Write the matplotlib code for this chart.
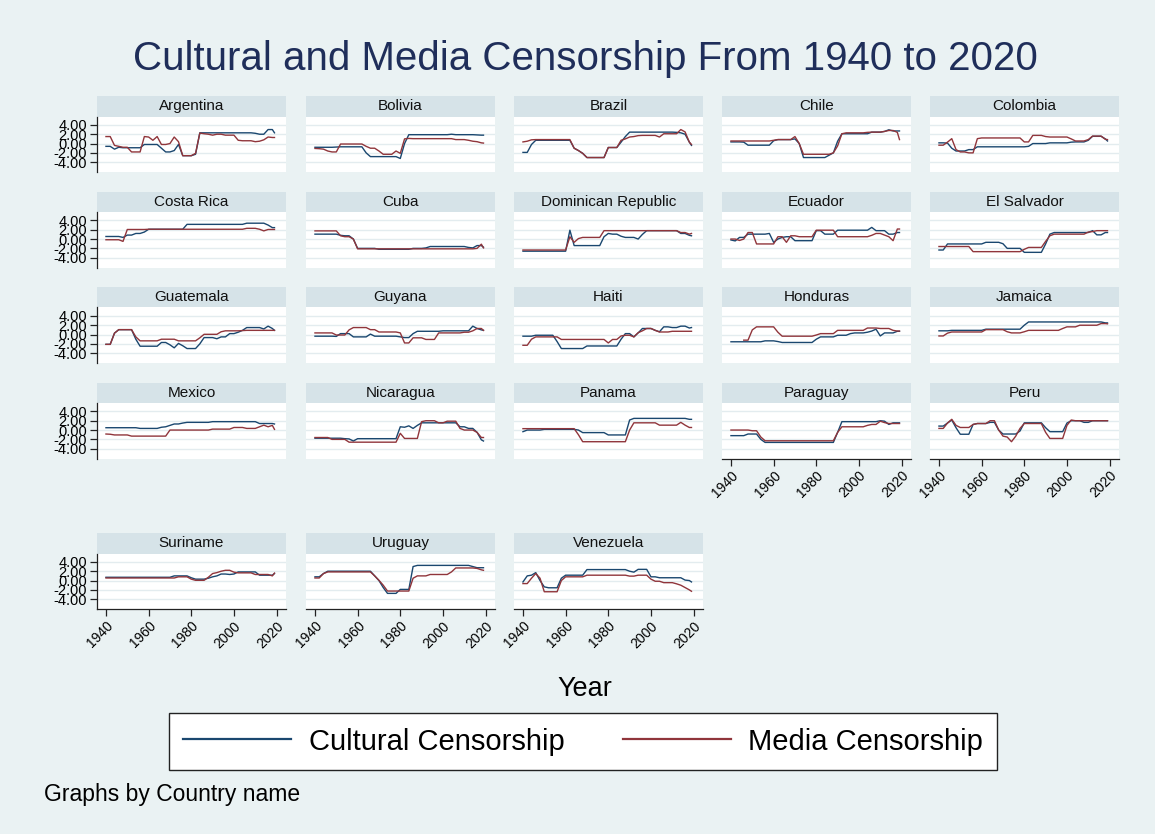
import numpy as np
import matplotlib
matplotlib.use("Agg")
import matplotlib.pyplot as plt

plt.rcParams["font.family"] = ["Liberation Sans", "DejaVu Sans"]

nan = np.nan
years = list(range(1940, 2019, 2)) + [2019]

# cultural (blue) and media (red) censorship scores, one value per point in `years`
argentina_cult = [-0.6, -0.6, -1.2, -0.8, -0.9, -0.9, -0.9, -0.9, -0.9, -0.2,
                  -0.2, -0.2, -0.2, -1.0, -1.8, -1.8, -1.5, -0.2, -2.6, -2.6,
                  -2.6, -2.3, 2.3, 2.3, 2.3, 2.3, 2.3, 2.3, 2.3, 2.3,
                  2.3, 2.3, 2.3, 2.3, 2.3, 2.2, 2.0, 2.0, 3.0, 3.0, 2.3]
argentina_media = [1.5, 1.5, -0.4, -0.6, -0.8, -0.8, -1.8, -1.8, -1.8, 1.5,
                   1.4, 0.7, 1.5, -0.2, -0.2, 0.0, 1.4, 0.4, -2.6, -2.6,
                   -2.6, -2.1, 2.25, 2.1, 2.0, 1.8, 2.0, 2.0, 1.8, 1.8,
                   1.8, 0.7, 0.6, 0.6, 0.6, 0.4, 0.5, 0.8, 1.4, 1.3, 1.3]
bolivia_cult = [-0.8, -0.8, -0.8, -0.8, -0.8, -0.75, -0.7, -0.7, -0.7, -0.7,
                -0.7, -0.7, -2.0, -2.8, -2.8, -2.8, -2.8, -2.8, -2.8, -2.8,
                -3.2, 0.0, 1.9, 1.9, 1.9, 1.9, 1.9, 1.9, 1.9, 1.9,
                1.9, 1.9, 2.0, 1.9, 1.9, 1.9, 1.9, 1.9, 1.85, 1.8, 1.8]
bolivia_media = [-1.05, -1.1, -1.2, -1.6, -1.8, -1.8, -0.1, -0.1, -0.1, -0.1,
                 -0.1, -0.1, -0.6, -1.0, -1.0, -1.6, -2.3, -2.3, -2.3, -1.6,
                 -2.1, 1.0, 1.1, 1.05, 1.05, 1.05, 1.05, 1.05, 1.05, 1.05,
                 1.05, 1.05, 1.05, 0.85, 0.85, 0.85, 0.7, 0.5, 0.4, 0.15, 0.1]
brazil_cult = [-1.9, -1.9, -0.2, 0.7, 0.7, 0.7, 0.7, 0.7, 0.7, 0.7,
               0.7, 0.7, -1.0, -1.5, -2.1, -3.0, -3.0, -3.0, -3.0, -3.0,
               -0.85, -0.85, -0.85, 0.3, 1.5, 2.45, 2.45, 2.45, 2.45, 2.45,
               2.45, 2.45, 2.45, 2.45, 2.45, 2.45, 2.4, 2.3, 2.0, 0.3, -0.4]
brazil_media = [0.35, 0.5, 0.8, 0.85, 0.85, 0.85, 0.85, 0.85, 0.85, 0.85,
                0.85, 0.85, -1.0, -1.5, -2.1, -3.0, -3.0, -3.0, -3.0, -3.0,
                -0.85, -0.85, -0.85, 0.7, 1.0, 1.4, 1.5, 1.7, 1.75, 1.75,
                1.75, 1.75, 1.4, 2.1, 2.1, 2.1, 2.1, 3.0, 2.5, 0.3, -0.2]
chile_cult = [0.35, 0.35, 0.35, 0.3, -0.35, -0.35, -0.35, -0.35, -0.35, -0.35,
              0.6, 0.85, 0.85, 0.85, 0.85, 1.0, 0.0, -3.0, -3.0, -3.0,
              -3.0, -3.0, -3.0, -2.5, -2.0, 0.5, 2.1, 2.1, 2.1, 2.1,
              2.1, 2.1, 2.1, 2.45, 2.45, 2.45, 2.6, 2.95, 2.7, 2.7, 2.7]
chile_media = [0.55, 0.55, 0.55, 0.55, 0.55, 0.55, 0.55, 0.55, 0.55, 0.55,
               0.7, 0.85, 0.85, 0.85, 0.85, 1.5, 0.0, -2.3, -2.3, -2.3,
               -2.3, -2.3, -2.3, -2.3, -2.0, -0.5, 2.1, 2.3, 2.3, 2.3,
               2.3, 2.3, 2.4, 2.45, 2.45, 2.45, 2.6, 2.8, 2.8, 2.4, 0.85]
colombia_cult = [0.15, 0.15, 0.1, -1.0, -1.6, -1.6, -1.6, -1.3, -1.3, -0.7,
                 -0.7, -0.7, -0.7, -0.7, -0.7, -0.7, -0.7, -0.7, -0.7, -0.7,
                 -0.7, -0.6, 0.0, 0.0, 0.0, 0.0, 0.15, 0.15, 0.15, 0.15,
                 0.15, 0.3, 0.35, 0.35, 0.35, 0.7, 1.55, 1.55, 1.55, 1.0, 0.55]
colombia_media = [-0.35, -0.35, 0.3, 1.05, -1.3, -1.8, -1.8, -2.0, -2.0, 1.05,
                  1.2, 1.2, 1.2, 1.2, 1.2, 1.2, 1.2, 1.2, 1.2, 1.2,
                  0.35, 0.35, 1.75, 1.75, 1.75, 1.5, 1.4, 1.4, 1.4, 1.4,
                  1.4, 1.0, 0.55, 0.55, 0.55, 0.85, 1.6, 1.6, 1.6, 0.9, 0.85]
costarica_cult = [0.55, 0.55, 0.55, 0.55, 0.35, 0.85, 0.85, 1.2, 1.2, 1.5,
                  2.1, 2.1, 2.1, 2.1, 2.1, 2.1, 2.1, 2.1, 2.1, 3.15,
                  3.15, 3.15, 3.15, 3.15, 3.15, 3.15, 3.15, 3.15, 3.15, 3.15,
                  3.15, 3.15, 3.15, 3.4, 3.4, 3.4, 3.4, 3.4, 3.0, 2.45, 2.45]
costarica_media = [-0.15, -0.15, -0.15, -0.15, -0.5, 2.05, 2.05, 2.05, 2.05, 2.05,
                   2.1, 2.1, 2.1, 2.1, 2.1, 2.1, 2.1, 2.1, 2.1, 2.1,
                   2.1, 2.1, 2.1, 2.1, 2.1, 2.1, 2.1, 2.1, 2.1, 2.1,
                   2.1, 2.1, 2.1, 2.3, 2.3, 2.3, 2.1, 1.75, 2.05, 2.05, 2.05]
cuba_cult = [1.05, 1.05, 1.05, 1.05, 1.05, 1.05, 0.8, 0.7, 0.7, 0.0,
             -2.0, -2.0, -2.0, -2.0, -2.0, -2.2, -2.2, -2.2, -2.2, -2.2,
             -2.2, -2.2, -2.2, -2.0, -2.0, -2.0, -1.9, -1.6, -1.6, -1.6,
             -1.6, -1.6, -1.6, -1.6, -1.6, -1.6, -1.8, -1.9, -1.4, -1.4, -1.75]
cuba_media = [1.75, 1.75, 1.75, 1.75, 1.75, 1.75, 0.7, 0.5, 0.5, 0.0,
              -2.1, -2.1, -2.1, -2.1, -2.1, -2.1, -2.1, -2.1, -2.1, -2.1,
              -2.1, -2.1, -2.1, -2.1, -2.1, -2.1, -2.1, -2.1, -2.1, -2.1,
              -2.1, -2.1, -2.1, -2.1, -2.1, -2.1, -2.1, -2.1, -2.0, -1.1, -1.9]
dominican_cult = [-2.6, -2.6, -2.6, -2.6, -2.6, -2.6, -2.6, -2.6, -2.6, -2.6,
                  -2.6, 1.9, -1.4, -1.4, -1.4, -1.4, -1.4, -1.4, -1.4, 0.5,
                  1.2, 1.05, 1.05, 0.6, 0.35, 0.35, 0.35, 0.0, 1.0, 1.8,
                  1.8, 1.8, 1.8, 1.8, 1.8, 1.8, 1.8, 1.2, 1.2, 0.8, 0.7]
dominican_media = [-2.35, -2.35, -2.35, -2.35, -2.35, -2.35, -2.35, -2.35, -2.35, -2.35,
                   -2.35, 0.5, -0.7, 0.1, 0.35, 0.35, 0.35, 0.35, 0.35, 1.8,
                   1.8, 1.8, 1.8, 1.8, 1.8, 1.8, 1.8, 1.8, 1.8, 1.8,
                   1.8, 1.8, 1.8, 1.8, 1.8, 1.8, 1.8, 1.4, 1.4, 1.05, 1.2]
ecuador_cult = [-0.2, -0.4, 0.35, 0.35, 1.05, 1.05, 1.05, 1.05, 1.05, 1.2,
                -0.7, 0.0, 0.35, 0.5, 0.5, -0.35, -0.35, -0.35, -0.35, -0.35,
                1.8, 1.8, 1.05, 1.05, 1.05, 1.9, 1.9, 1.9, 1.9, 1.9,
                1.9, 1.9, 1.9, 2.5, 1.8, 1.8, 1.8, 1.05, 1.05, 1.4, 1.4]
ecuador_media = [0.0, 0.0, -0.3, 0.0, 1.4, 1.4, -1.05, -1.05, -1.05, -1.05,
                 -1.05, 0.5, 0.5, -0.7, 0.7, 0.7, 0.5, 0.5, 0.5, 0.5,
                 1.9, 1.9, 1.9, 1.9, 1.9, 0.5, 0.5, 0.5, 0.5, 0.5,
                 0.5, 0.5, 0.5, 0.8, 1.2, 1.2, 0.85, 0.5, -0.35, 2.15, 2.15]
elsalvador_cult = [-2.35, -2.35, -1.05, -1.05, -1.05, -1.05, -1.05, -1.05, -1.05, -1.05,
                   -1.05, -0.7, -0.7, -0.7, -0.7, -1.0, -2.0, -2.0, -2.0, -2.0,
                   -2.85, -2.85, -2.85, -2.85, -2.85, -1.05, 1.05, 1.4, 1.4, 1.4,
                   1.4, 1.4, 1.4, 1.4, 1.4, 1.4, 1.8, 0.9, 0.9, 1.4, 1.4]
elsalvador_media = [-1.6, -1.6, -1.6, -1.6, -1.6, -1.6, -1.6, -1.6, -2.7, -2.7,
                    -2.7, -2.7, -2.7, -2.7, -2.7, -2.7, -2.7, -2.7, -2.7, -2.7,
                    -2.2, -1.8, -1.8, -1.8, -1.8, -0.5, 0.7, 1.05, 1.05, 1.05,
                    1.05, 1.05, 1.05, 1.05, 1.05, 1.5, 1.6, 1.8, 1.8, 1.8, 1.8]
guatemala_cult = [-2.1, -2.1, 0.3, 1.05, 1.05, 1.05, 1.05, -1.0, -2.5, -2.5,
                  -2.5, -2.5, -2.5, -1.7, -1.7, -2.2, -2.85, -1.9, -2.4, -3.0,
                  -3.0, -3.0, -2.0, -0.65, -0.65, -0.65, -0.9, -0.5, -0.5, 0.2,
                  0.2, 0.5, 0.9, 1.5, 1.5, 1.5, 1.5, 1.2, 1.8, 1.3, 0.9]
guatemala_media = [-2.1, -2.1, 0.3, 1.05, 1.05, 1.05, 1.05, -0.5, -1.35, -1.35,
                   -1.35, -1.35, -1.35, -1.0, -1.0, -1.0, -1.0, -1.35, -1.35, -1.35,
                   -1.35, -1.35, -0.7, 0.05, 0.05, 0.05, 0.05, 0.6, 0.8, 0.8,
                   0.8, 0.8, 0.85, 0.9, 0.9, 0.9, 0.9, 0.9, 0.9, 0.9, 0.9]
guyana_cult = [-0.35, -0.35, -0.35, -0.35, -0.35, -0.4, 0.2, 0.2, 0.2, -0.5,
               -0.5, -0.5, -0.5, 0.1, -0.35, -0.35, -0.35, -0.35, -0.35, -0.35,
               -0.5, -0.65, -0.65, 0.2, 0.7, 0.7, 0.7, 0.7, 0.7, 0.7,
               0.8, 0.8, 0.8, 0.8, 0.8, 0.8, 0.8, 1.8, 1.3, 1.0, 0.9]
guyana_media = [0.35, 0.35, 0.35, 0.35, 0.35, -0.1, -0.1, -0.1, 1.0, 1.5,
                1.5, 1.5, 1.5, 1.05, 1.05, 0.55, 0.55, 0.55, 0.55, 0.55,
                0.35, -1.8, -1.8, -0.7, -0.7, -0.7, -1.05, -1.05, -1.05, 0.35,
                0.35, 0.35, 0.35, 0.35, 0.35, 0.5, 0.5, 0.8, 1.3, 1.3, 0.9]
haiti_cult = [-0.35, -0.35, -0.35, -0.15, -0.15, -0.15, -0.15, -0.15, -1.5, -3.0,
              -3.0, -3.0, -3.0, -3.0, -3.0, -2.45, -2.45, -2.45, -2.45, -2.45,
              -2.45, -2.45, -2.45, -1.0, 0.2, 0.2, -0.5, 0.35, 1.3, 1.3,
              1.3, 0.9, 0.6, 1.65, 1.65, 1.5, 1.5, 1.8, 1.8, 1.4, 1.5]
haiti_media = [-2.3, -2.3, -1.0, -0.5, -0.5, -0.5, -0.5, -0.5, -0.5, -1.05,
               -1.05, -1.05, -1.05, -1.05, -1.05, -1.05, -1.05, -1.05, -1.05, -1.05,
               -1.8, -1.05, -1.05, -0.3, -0.15, -0.15, -0.5, 0.4, 0.8, 1.3,
               1.3, 0.9, 0.55, 0.55, 0.55, 0.7, 0.7, 0.7, 0.7, 0.7, 0.7]
honduras_cult = [-1.55, -1.55, -1.55, -1.55, -1.55, -1.55, -1.55, -1.55, -1.35, -1.35,
                 -1.35, -1.5, -1.7, -1.7, -1.7, -1.7, -1.7, -1.7, -1.7, -1.7,
                 -1.0, -0.5, -0.5, -0.5, -0.5, -0.15, -0.15, -0.15, 0.2, 0.35,
                 0.35, 0.35, 0.5, 0.75, 1.15, -0.3, 0.35, 0.35, 0.35, 0.7, 0.7]
honduras_media = [nan, nan, nan, -1.2, -1.2, 1.0, 1.65, 1.65, 1.65, 1.65,
                  1.65, 0.5, -0.35, -0.35, -0.35, -0.35, -0.35, -0.35, -0.35, -0.35,
                  -0.1, 0.2, 0.2, 0.2, 0.2, 0.9, 0.9, 0.9, 0.9, 0.9,
                  0.9, 0.9, 1.4, 1.4, 1.4, 1.3, 1.3, 1.3, 0.9, 0.75, 0.75]
jamaica_cult = [0.8, 0.8, 0.8, 0.9, 0.9, 0.9, 0.9, 0.9, 0.9, 0.9,
                0.9, 1.15, 1.15, 1.15, 1.15, 1.15, 1.15, 1.15, 1.15, 1.15,
                2.0, 2.7, 2.7, 2.7, 2.7, 2.7, 2.7, 2.7, 2.7, 2.7,
                2.7, 2.7, 2.7, 2.7, 2.7, 2.7, 2.7, 2.7, 2.7, 2.5, 2.5]
jamaica_media = [-0.3, -0.3, 0.3, 0.55, 0.55, 0.55, 0.55, 0.55, 0.55, 0.55,
                 0.55, 1.05, 1.05, 1.05, 1.05, 1.05, 0.6, 0.35, 0.35, 0.35,
                 0.6, 0.9, 0.9, 0.9, 0.9, 0.9, 0.9, 0.9, 0.9, 1.3,
                 1.65, 1.65, 1.65, 2.0, 2.0, 2.0, 2.0, 2.0, 2.35, 2.35, 2.3]
mexico_cult = [0.5, 0.5, 0.5, 0.5, 0.5, 0.5, 0.5, 0.5, 0.35, 0.35,
               0.35, 0.35, 0.35, 0.6, 0.7, 1.0, 1.3, 1.3, 1.5, 1.65,
               1.65, 1.65, 1.65, 1.65, 1.65, 1.8, 1.8, 1.8, 1.8, 1.8,
               1.8, 1.8, 1.8, 1.8, 1.8, 1.8, 1.4, 1.4, 1.4, 1.4, 1.3]
mexico_media = [-0.85, -0.9, -1.05, -1.05, -1.05, -1.05, -1.3, -1.3, -1.3, -1.3,
                -1.3, -1.3, -1.3, -1.3, -1.3, 0.0, 0.0, 0.0, 0.0, 0.0,
                0.0, 0.0, 0.0, 0.0, 0.0, 0.2, 0.2, 0.2, 0.2, 0.2,
                0.55, 0.55, 0.55, 0.35, 0.35, 0.35, 0.7, 1.05, 0.7, 1.0, 0.15]
nicaragua_cult = [-1.75, -1.75, -1.75, -1.75, -1.75, -1.75, -1.75, -1.85, -1.9, -2.35,
                  -1.85, -1.85, -1.85, -1.85, -1.85, -1.85, -1.85, -1.85, -1.85, -1.85,
                  0.7, 0.6, 0.9, 0.35, 1.0, 1.55, 1.55, 1.55, 1.55, 1.55,
                  1.55, 1.55, 1.55, 1.55, 0.7, 0.7, 0.35, 0.35, -0.5, -2.1, -2.35]
nicaragua_media = [-1.6, -1.6, -1.6, -1.6, -2.0, -2.0, -2.0, -2.0, -2.6, -2.6,
                   -2.6, -2.6, -2.6, -2.6, -2.6, -2.6, -2.6, -2.6, -2.6, -2.6,
                   -0.7, -1.8, -1.8, -1.8, -1.8, 1.8, 2.0, 2.0, 2.0, 1.55,
                   1.55, 1.9, 1.9, 1.9, 0.35, 0.0, 0.0, 0.0, -0.5, -1.6, -1.6]
panama_cult = [-0.35, 0.0, 0.0, 0.0, 0.0, 0.15, 0.15, 0.15, 0.15, 0.15,
               0.15, 0.15, 0.15, 0.0, -0.55, -0.55, -0.55, -0.55, -0.55, -0.55,
               -1.05, -1.05, -1.05, -1.05, -1.05, 2.15, 2.5, 2.5, 2.5, 2.5,
               2.5, 2.5, 2.5, 2.5, 2.5, 2.5, 2.5, 2.5, 2.5, 2.3, 2.3]
panama_media = [0.3, 0.3, 0.3, 0.3, 0.3, 0.3, 0.3, 0.3, 0.3, 0.3,
                0.3, 0.3, 0.3, -1.0, -2.5, -2.5, -2.5, -2.5, -2.5, -2.5,
                -2.5, -2.5, -2.5, -2.5, -2.5, 0.0, 1.55, 1.55, 1.55, 1.55,
                1.55, 1.55, 1.05, 1.05, 1.05, 1.05, 1.05, 1.65, 1.05, 0.55, 0.55]
paraguay_cult = [-1.2, -1.2, -1.2, -1.2, -0.85, -0.85, -0.85, -2.0, -2.65, -2.65,
                 -2.65, -2.65, -2.65, -2.65, -2.65, -2.65, -2.65, -2.65, -2.65, -2.65,
                 -2.65, -2.65, -2.65, -2.65, -2.65, -0.5, 1.8, 1.8, 1.8, 1.8,
                 1.8, 1.8, 1.8, 1.8, 1.8, 2.0, 1.9, 1.2, 1.55, 1.55, 1.55]
paraguay_media = [0.0, 0.0, 0.0, 0.0, 0.0, -0.15, -0.15, -1.5, -2.3, -2.3,
                  -2.3, -2.3, -2.3, -2.3, -2.3, -2.3, -2.3, -2.3, -2.3, -2.3,
                  -2.3, -2.3, -2.3, -2.3, -2.3, -0.5, 0.7, 0.7, 0.7, 0.7,
                  0.7, 0.7, 1.0, 1.2, 1.2, 1.9, 1.6, 1.4, 1.4, 1.4, 1.4]
peru_cult = [0.85, 0.85, 1.5, 2.15, 0.5, -0.9, -0.9, -0.9, 1.2, 1.4,
             1.4, 1.4, 1.65, 1.65, 0.0, -0.85, -0.85, -0.85, -0.85, -0.2,
             1.55, 1.55, 1.55, 1.55, 1.55, 0.5, -0.35, -0.35, -0.35, -0.35,
             1.5, 2.0, 2.0, 2.0, 1.65, 1.65, 2.0, 2.0, 2.0, 2.0, 2.0]
peru_media = [0.35, 0.35, 1.5, 2.3, 1.0, 0.55, 0.55, 0.55, 1.2, 1.4,
              1.4, 1.4, 2.0, 2.0, 0.0, -1.3, -1.5, -2.5, -1.3, 0.35,
              1.4, 1.4, 1.4, 1.4, 1.4, -0.5, -1.8, -1.8, -1.8, -1.8,
              1.0, 2.15, 2.0, 2.0, 2.0, 2.0, 2.0, 2.0, 2.0, 2.0, 2.0]
suriname_cult = [0.7, 0.7, 0.7, 0.7, 0.7, 0.7, 0.7, 0.7, 0.7, 0.7,
                 0.7, 0.7, 0.7, 0.7, 0.7, 0.7, 1.0, 1.0, 1.0, 1.0,
                 0.6, 0.3, 0.3, 0.3, 0.5, 0.8, 1.0, 1.4, 1.4, 1.3,
                 1.4, 1.85, 1.85, 1.85, 1.85, 1.85, 1.15, 1.15, 1.15, 1.15, 1.5]
suriname_media = [0.55, 0.55, 0.55, 0.55, 0.55, 0.55, 0.55, 0.55, 0.55, 0.55,
                  0.55, 0.55, 0.55, 0.55, 0.55, 0.55, 0.55, 0.8, 0.8, 0.8,
                  0.3, 0.05, 0.05, 0.05, 0.7, 1.5, 1.7, 2.0, 2.2, 2.2,
                  1.8, 1.65, 1.65, 1.65, 1.65, 1.3, 1.3, 1.3, 1.3, 1.0, 1.6]
uruguay_cult = [0.8, 0.8, 1.5, 2.0, 2.0, 2.0, 2.0, 2.0, 2.0, 2.0,
                2.0, 2.0, 2.0, 2.0, 1.0, 0.0, -1.5, -2.75, -2.75, -2.75,
                -1.9, -1.9, -1.9, 3.0, 3.25, 3.25, 3.25, 3.25, 3.25, 3.25,
                3.25, 3.25, 3.25, 3.25, 3.25, 3.25, 3.25, 3.0, 2.75, 2.75, 2.75]
uruguay_media = [0.55, 0.55, 1.5, 1.85, 1.85, 1.85, 1.85, 1.85, 1.85, 1.85,
                 1.85, 1.85, 1.85, 1.85, 1.0, 0.05, -1.0, -2.25, -2.25, -2.25,
                 -2.25, -2.25, -2.25, 0.5, 1.0, 1.0, 1.0, 1.3, 1.3, 1.3,
                 1.3, 1.3, 1.85, 2.7, 2.7, 2.7, 2.7, 2.7, 2.6, 2.3, 2.2]
venezuela_cult = [-0.3, 1.0, 1.15, 1.7, 0.0, -1.35, -1.55, -1.55, -1.55, 0.5,
                  1.15, 1.15, 1.15, 1.15, 1.15, 2.35, 2.35, 2.35, 2.35, 2.35,
                  2.35, 2.35, 2.35, 2.35, 2.35, 2.0, 1.8, 2.4, 2.4, 2.4,
                  0.8, 0.8, 0.6, 0.6, 0.6, 0.6, 0.6, 0.6, 0.1, 0.0, -0.3]
venezuela_media = [-0.65, -0.65, 0.5, 1.5, 0.5, -2.4, -2.4, -2.4, -2.4, 0.0,
                   0.8, 0.8, 0.8, 0.8, 0.8, 1.15, 1.15, 1.15, 1.15, 1.15,
                   1.15, 1.15, 1.15, 1.15, 1.15, 0.95, 0.95, 1.15, 1.15, 1.15,
                   0.3, -0.15, -0.15, -0.45, -0.45, -0.45, -0.7, -1.0, -1.5, -2.0, -2.3]

countries = [
    ("Argentina", argentina_cult, argentina_media),
    ("Bolivia", bolivia_cult, bolivia_media),
    ("Brazil", brazil_cult, brazil_media),
    ("Chile", chile_cult, chile_media),
    ("Colombia", colombia_cult, colombia_media),
    ("Costa Rica", costarica_cult, costarica_media),
    ("Cuba", cuba_cult, cuba_media),
    ("Dominican Republic", dominican_cult, dominican_media),
    ("Ecuador", ecuador_cult, ecuador_media),
    ("El Salvador", elsalvador_cult, elsalvador_media),
    ("Guatemala", guatemala_cult, guatemala_media),
    ("Guyana", guyana_cult, guyana_media),
    ("Haiti", haiti_cult, haiti_media),
    ("Honduras", honduras_cult, honduras_media),
    ("Jamaica", jamaica_cult, jamaica_media),
    ("Mexico", mexico_cult, mexico_media),
    ("Nicaragua", nicaragua_cult, nicaragua_media),
    ("Panama", panama_cult, panama_media),
    ("Paraguay", paraguay_cult, paraguay_media),
    ("Peru", peru_cult, peru_media),
    ("Suriname", suriname_cult, suriname_media),
    ("Uruguay", uruguay_cult, uruguay_media),
    ("Venezuela", venezuela_cult, venezuela_media),
]

x_ticks = [1940, 1960, 1980, 2000, 2020]
y_ticks = [-4, -2, 0, 2, 4]
y_tick_labels = ["-4.00", "-2.00", "0.00", "2.00", "4.00"]

BG = "#EAF2F3"
STRIP = "#D6E3E8"
GRID = "#E3ECEF"
BLUE = "#1A476F"
RED = "#90353B"
W, H = 1155, 834

fig = plt.figure(figsize=(W / 100, H / 100), dpi=100, facecolor=BG)


def px_rect(x, y, w, h):
    return [x / W, 1 - (y + h) / H, w / W, h / H]


col_x = [97, 306, 514, 722, 930]
row_y = [96, 191.5, 287, 382.5, 533]
panel_w, strip_h, plot_h = 189, 20.5, 55.5

handles = None
for i, (name, cult, media) in enumerate(countries):
    row, col = i // 5, i % 5
    x0, y0 = col_x[col], row_y[row]

    # label strip above each panel
    sax = fig.add_axes(px_rect(x0, y0, panel_w, strip_h))
    sax.set_facecolor(STRIP)
    sax.set_xticks([])
    sax.set_yticks([])
    for sp in sax.spines.values():
        sp.set_visible(False)
    sax.text(0.5, 0.5, name, ha="center", va="center", fontsize=11, color="#111111")

    ax = fig.add_axes(px_rect(x0, y0 + strip_h, panel_w, plot_h))
    ax.set_facecolor("white")
    for sp in ax.spines.values():
        sp.set_visible(False)
    ax.set_xlim(1935.8, 2024.4)
    ax.set_ylim(-6.1, 5.8)
    ax.set_yticks(y_ticks)
    ax.grid(axis="y", color=GRID, lw=1.0)
    ax.set_axisbelow(True)
    l1, = ax.plot(years, cult, color=BLUE, lw=1.0)
    l2, = ax.plot(years, media, color=RED, lw=1.0)
    if handles is None:
        handles = [l1, l2]

    if col == 0:
        ax.spines["left"].set_visible(True)
        ax.spines["left"].set_color("#222222")
        ax.spines["left"].set_linewidth(0.9)
        ax.set_yticklabels(y_tick_labels, fontsize=10.5)
        ax.tick_params(axis="y", length=5, width=0.9, color="#222222", pad=2)
    else:
        ax.tick_params(axis="y", length=0, labelleft=False)

    if row == 4 or (row == 3 and col >= 3):
        ax.spines["bottom"].set_visible(True)
        ax.spines["bottom"].set_color("#222222")
        ax.spines["bottom"].set_linewidth(0.9)
        ax.set_xticks(x_ticks)
        ax.set_xticklabels([str(t) for t in x_ticks], fontsize=10)
        ax.tick_params(axis="x", length=5, width=0.9, color="#222222", pad=2)
        for lab in ax.get_xticklabels():
            lab.set_rotation(45)
            lab.set_ha("right")
            lab.set_va("top")
            lab.set_rotation_mode("anchor")
    else:
        ax.set_xticks([])

fig.text(585 / W, 1 - 59 / H, "Cultural and Media Censorship From 1940 to 2020",
         ha="center", va="center", fontsize=29, color="#1F2E5A")
fig.text(585 / W, 1 - 689 / H, "Year", ha="center", va="center", fontsize=19.5)
fig.text(44 / W, 1 - 795 / H, "Graphs by Country name", ha="left", va="center", fontsize=16.5)

leg = fig.legend(handles, ["Cultural Censorship", "Media Censorship"],
                 loc="center", bbox_to_anchor=(583 / W, 1 - 741.5 / H), ncol=2,
                 fontsize=21, frameon=True, fancybox=False, framealpha=1,
                 edgecolor="#222222", facecolor="white", handlelength=3.7,
                 handletextpad=0.6, columnspacing=2.0, borderpad=0.5)
leg.get_frame().set_linewidth(1.0)
for ln in leg.get_lines():
    ln.set_linewidth(1.6)

fig.savefig("out.png", dpi=100, facecolor=BG)
